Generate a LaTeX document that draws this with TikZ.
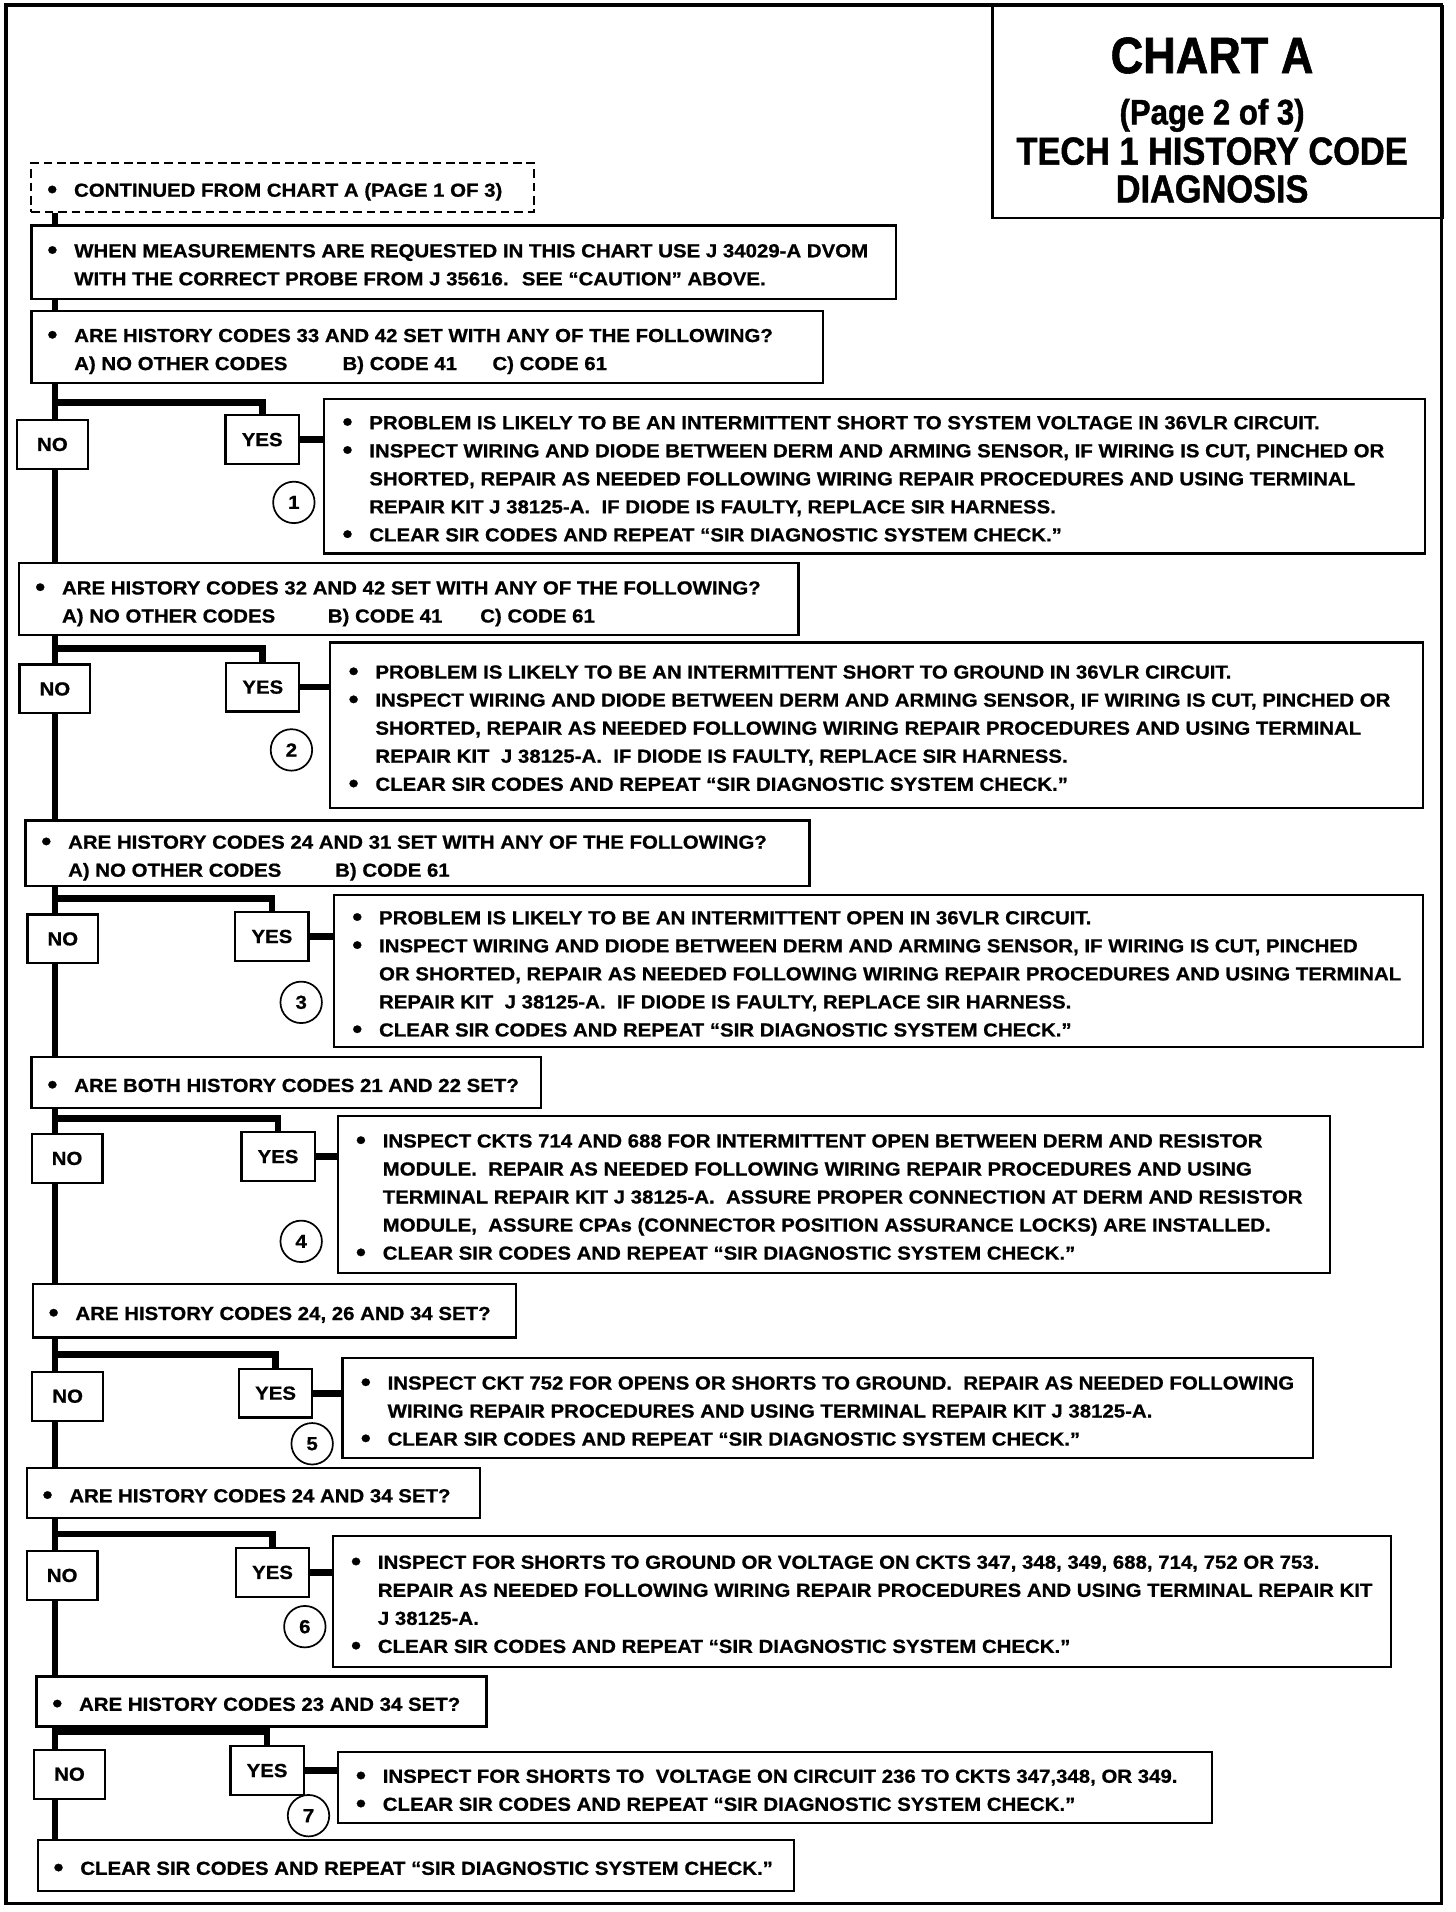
\documentclass[tikz,border=0pt]{standalone}
\usepackage{fontspec}
\setmainfont[FakeStretch=1.08,FakeBold=0.8]{Liberation Sans}
\newfontfamily\headfont[FakeStretch=0.88,FakeBold=1.2]{Liberation Sans}
\newcommand\bul{\makebox[22pt][l]{\raisebox{-1.2pt}{\scalebox{1.4}{\textbullet}}}}
\newcommand\boxtext[2]{\makebox[#1][l]{\raisebox{-3pt}[\height][\depth]{\begin{tabular}{@{}l@{}l@{}}#2\end{tabular}}}}
\begin{document}
\begin{tikzpicture}[x=1pt,y=-1pt,font=\fontsize{15.5}{23}\selectfont\bfseries,
		box/.style={draw,line width=1.8pt,anchor=north west,inner xsep=13pt,inner ysep=0pt},
		act/.style={box,inner xsep=15pt},
		yn/.style={draw,line width=1.8pt,minimum width=58,minimum height=40,inner sep=0pt},
		num/.style={draw,circle,line width=1.4pt,minimum size=34,inner sep=0pt},
		trunk/.style={line width=5.5pt}]
	\useasboundingbox (0,0) rectangle (1194,1568);
	\draw[line width=3pt] (5,4) rectangle (1182,1561);
	% title
	\node[draw,line width=2pt,anchor=north west,minimum width=369,minimum height=174] (hd) at (813,4) {};
	\node[anchor=base] (hd1) at (994,60) {\headfont\fontsize{42}{42}\selectfont CHART A};
	\node[anchor=base] (hd2) at (994,102) {\headfont\fontsize{29}{29}\selectfont (Page 2 of 3)};
	\node[anchor=base] (hd3) at (994,135) {\headfont\fontsize{32}{32}\selectfont TECH 1 HISTORY CODE};
	\node[anchor=base] (hd4) at (994,166) {\headfont\fontsize{32}{32}\selectfont DIAGNOSIS};
	% questions
	\node[box,dashed,dash pattern=on 7pt off 4pt,line width=1.5pt,minimum width=412,minimum height=40] (cont) at (25,133)
		{\boxtext{386pt}{\bul & CONTINUED FROM CHART A (PAGE 1 OF 3)}};
	\node[box,minimum width=709,minimum height=60] (meas) at (25,184)
		{\boxtext{683pt}{\bul & WHEN MEASUREMENTS ARE REQUESTED IN THIS CHART USE J 34029-A DVOM\\
			& WITH THE CORRECT PROBE FROM J 35616.~ SEE ``CAUTION'' ABOVE.}};
	\node[box,minimum width=649,minimum height=59] (q1) at (25,254)
		{\boxtext{623pt}{\bul & ARE HISTORY CODES 33 AND 42 SET WITH ANY OF THE FOLLOWING?\\
			& \makebox[220pt][l]{A) NO OTHER CODES}\makebox[123pt][l]{B) CODE 41}C) CODE 61}};
	\node[box,minimum width=639,minimum height=59] (q2) at (15,461)
		{\boxtext{613pt}{\bul & ARE HISTORY CODES 32 AND 42 SET WITH ANY OF THE FOLLOWING?\\
			& \makebox[218pt][l]{A) NO OTHER CODES}\makebox[125pt][l]{B) CODE 41}C) CODE 61}};
	\node[box,minimum width=643,minimum height=54] (q3) at (20,672)
		{\boxtext{617pt}{\bul & ARE HISTORY CODES 24 AND 31 SET WITH ANY OF THE FOLLOWING?\\
			& \makebox[219pt][l]{A) NO OTHER CODES}B) CODE 61}};
	\node[box,minimum width=418,minimum height=42] (q4) at (25,866)
		{\boxtext{392pt}{\bul & ARE BOTH HISTORY CODES 21 AND 22 SET?}};
	\node[box,minimum width=396,minimum height=44] (q5) at (26,1052)
		{\boxtext{370pt}{\bul & ARE HISTORY CODES 24, 26 AND 34 SET?}};
	\node[box,minimum width=372,minimum height=41] (q6) at (21,1203)
		{\boxtext{346pt}{\bul & ARE HISTORY CODES 24 AND 34 SET?}};
	\node[box,minimum width=369,minimum height=41] (q7) at (29,1374)
		{\boxtext{343pt}{\bul & ARE HISTORY CODES 23 AND 34 SET?}};
	\node[box,minimum width=620,minimum height=42] (q8) at (30,1508)
		{\boxtext{594pt}{\bul & CLEAR SIR CODES AND REPEAT ``SIR DIAGNOSTIC SYSTEM CHECK.''}};
	% actions
	\node[act,minimum width=903,minimum height=127] (a1) at (265,326)
		{\boxtext{873pt}{\bul & PROBLEM IS LIKELY TO BE AN INTERMITTENT SHORT TO SYSTEM VOLTAGE IN 36VLR CIRCUIT.\\
			\bul & INSPECT WIRING AND DIODE BETWEEN DERM AND ARMING SENSOR, IF WIRING IS CUT, PINCHED OR\\
			& SHORTED, REPAIR AS NEEDED FOLLOWING WIRING REPAIR PROCEDURES AND USING TERMINAL\\
			& REPAIR KIT J 38125-A.~ IF DIODE IS FAULTY, REPLACE SIR HARNESS.\\
			\bul & CLEAR SIR CODES AND REPEAT ``SIR DIAGNOSTIC SYSTEM CHECK.''}};
	\node[act,minimum width=896,minimum height=136] (a2) at (270,526)
		{\boxtext{866pt}{\bul & PROBLEM IS LIKELY TO BE AN INTERMITTENT SHORT TO GROUND IN 36VLR CIRCUIT.\\
			\bul & INSPECT WIRING AND DIODE BETWEEN DERM AND ARMING SENSOR, IF WIRING IS CUT, PINCHED OR\\
			& SHORTED, REPAIR AS NEEDED FOLLOWING WIRING REPAIR PROCEDURES AND USING TERMINAL\\
			& REPAIR KIT~ J 38125-A.~ IF DIODE IS FAULTY, REPLACE SIR HARNESS.\\
			\bul & CLEAR SIR CODES AND REPEAT ``SIR DIAGNOSTIC SYSTEM CHECK.''}};
	\node[act,minimum width=893,minimum height=125] (a3) at (273,733)
		{\boxtext{863pt}{\bul & PROBLEM IS LIKELY TO BE AN INTERMITTENT OPEN IN 36VLR CIRCUIT.\\
			\bul & INSPECT WIRING AND DIODE BETWEEN DERM AND ARMING SENSOR, IF WIRING IS CUT, PINCHED\\
			& OR SHORTED, REPAIR AS NEEDED FOLLOWING WIRING REPAIR PROCEDURES AND USING TERMINAL\\
			& REPAIR KIT~ J 38125-A.~ IF DIODE IS FAULTY, REPLACE SIR HARNESS.\\
			\bul & CLEAR SIR CODES AND REPEAT ``SIR DIAGNOSTIC SYSTEM CHECK.''}};
	\node[act,minimum width=814,minimum height=129] (a4) at (276,914)
		{\boxtext{784pt}{\bul & INSPECT CKTS 714 AND 688 FOR INTERMITTENT OPEN BETWEEN DERM AND RESISTOR\\
			& MODULE.~ REPAIR AS NEEDED FOLLOWING WIRING REPAIR PROCEDURES AND USING\\
			& TERMINAL REPAIR KIT J 38125-A.~ ASSURE PROPER CONNECTION AT DERM AND RESISTOR\\
			& MODULE,~ ASSURE CPAs (CONNECTOR POSITION ASSURANCE LOCKS) ARE INSTALLED.\\
			\bul & CLEAR SIR CODES AND REPEAT ``SIR DIAGNOSTIC SYSTEM CHECK.''}};
	\node[act,minimum width=796,minimum height=82] (a5) at (280,1113)
		{\boxtext{766pt}{\bul & INSPECT CKT 752 FOR OPENS OR SHORTS TO GROUND.~ REPAIR AS NEEDED FOLLOWING\\
			& WIRING REPAIR PROCEDURES AND USING TERMINAL REPAIR KIT J 38125-A.\\
			\bul & CLEAR SIR CODES AND REPEAT ``SIR DIAGNOSTIC SYSTEM CHECK.''}};
	\node[act,minimum width=868,minimum height=107] (a6) at (272,1259)
		{\boxtext{838pt}{\bul & INSPECT FOR SHORTS TO GROUND OR VOLTAGE ON CKTS 347, 348, 349, 688, 714, 752 OR 753.\\
			& REPAIR AS NEEDED FOLLOWING WIRING REPAIR PROCEDURES AND USING TERMINAL REPAIR KIT\\
			& J 38125-A.\\
			\bul & CLEAR SIR CODES AND REPEAT ``SIR DIAGNOSTIC SYSTEM CHECK.''}};
	\node[act,minimum width=717,minimum height=58] (a7) at (276,1436)
		{\boxtext{687pt}{\bul & INSPECT FOR SHORTS TO~ VOLTAGE ON CIRCUIT 236 TO CKTS 347,348, OR 349.\\
			\bul & CLEAR SIR CODES AND REPEAT ``SIR DIAGNOSTIC SYSTEM CHECK.''}};
	% trunk and branches
	\coordinate (t) at (45,0);
	\draw[trunk] (cont.south -| t) -- (meas.north -| t);
	\draw[trunk] (meas.south -| t) -- (q1.north -| t);
	\foreach \i/\nx/\ny/\yx/\yy/\by/\cx/\cy in {1/43/364.5/215/360.5/330/241/412,
			2/45/565/215.5/563.5/532/239/615,3/51.5/770/223/768/737/247/822,
			4/55/950/228/948.5/917/247/1018,5/55.5/1145/226/1142.5/1111/256/1184,
			6/51/1292/223.5/1289.5/1258/250/1334,7/57/1455/219/1452/1420/253/1489}{
		\pgfmathtruncatemacro\j{\i+1}
		\node[yn] (no\i) at (\nx,\ny) {NO};
		\node[yn,minimum width=60] (yes\i) at (\yx,\yy) {YES};
		\node[num] (c\i) at (\cx,\cy) {\i};
		\coordinate (b\i) at (45,\by);
		\draw[trunk] (q\i.south -| t) -- (no\i.north -| t);
		\draw[trunk] (no\i.south -| t) -- (q\j.north -| t);
		\draw[trunk] (b\i) -| (yes\i.north);
		\draw[trunk] (yes\i.east) -- (yes\i.east -| a\i.west);
	}
\end{tikzpicture}
\end{document}
